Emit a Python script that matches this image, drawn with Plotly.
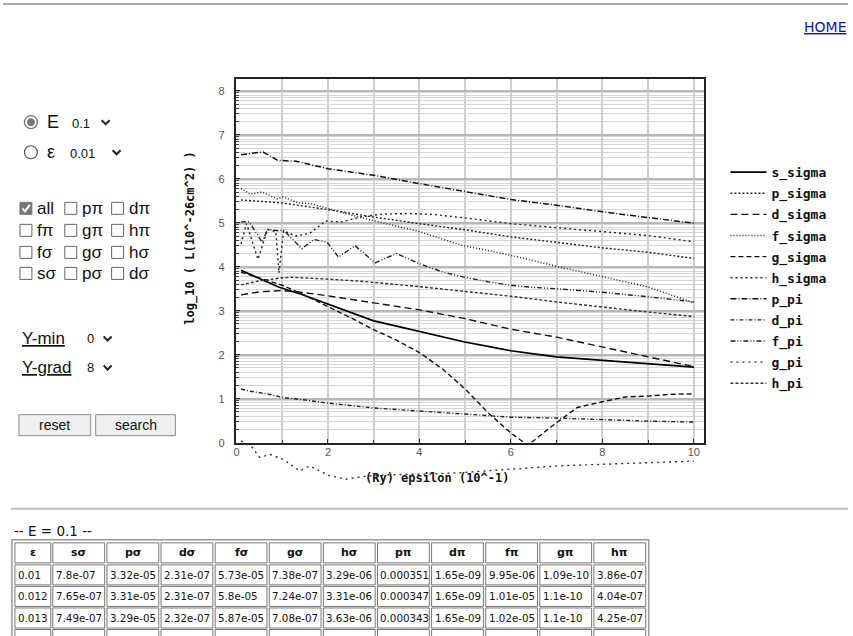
import numpy as np
import plotly.graph_objects as go

W, H = 853, 636
FIG_H = 643  # rendered height (page is captured slightly taller than 636 and scaled)

# ---------------- data ----------------
s_sigma_x = [0.1, 0.5, 0.92, 1.43, 1.98, 2.5, 3.0, 3.5, 3.98, 4.5, 4.99, 5.5, 6.0, 6.5, 7.0, 7.5, 8.0, 9.0, 10.0]
s_sigma_y = [3.92, 3.74, 3.54, 3.37, 3.16, 2.95, 2.77, 2.65, 2.53, 2.40, 2.29, 2.19, 2.09, 2.02, 1.95, 1.91, 1.87, 1.80, 1.72]

p_sigma_x = [0.1, 1.0, 2.0, 3.0, 4.0, 5.0, 6.0, 7.0, 8.0, 9.0, 10.0]
p_sigma_y = [5.52, 5.45, 5.30, 5.13, 4.98, 4.84, 4.68, 4.56, 4.43, 4.33, 4.19]

d_sigma_x = [0.1, 0.5, 1.0, 1.5, 2.0, 3.0, 4.0, 5.0, 6.0, 7.0, 8.0, 9.0, 10.0]
d_sigma_y = [3.36, 3.43, 3.46, 3.41, 3.34, 3.18, 3.02, 2.82, 2.58, 2.40, 2.18, 1.95, 1.73]

f_sigma_x = [0.1, 0.3, 0.56, 0.9, 1.02, 1.35, 1.6, 2.0, 2.5, 3.0, 3.5, 4.0, 4.5, 4.92, 5.5, 6.0, 7.0, 8.0, 9.0, 10.0]
f_sigma_y = [5.78, 5.65, 5.70, 5.54, 5.59, 5.45, 5.44, 5.32, 5.18, 5.05, 4.93, 4.80, 4.63, 4.49, 4.37, 4.26, 4.01, 3.78, 3.54, 3.18]

g_sigma_x = [0.1, 0.5, 1.0, 1.5, 2.0, 2.5, 3.0, 3.5, 4.0, 4.5, 5.0, 5.5, 6.0, 6.37, 6.9, 7.45, 8.0, 8.5, 9.0, 9.5, 10.0]
g_sigma_y = [3.88, 3.75, 3.58, 3.35, 3.10, 2.84, 2.57, 2.33, 2.05, 1.68, 1.22, 0.68, 0.22, -0.06, 0.38, 0.80, 0.93, 1.04, 1.06, 1.10, 1.11]

h_sigma_x = [0.1, 0.22, 0.47, 0.68, 0.86, 0.93, 1.03, 1.3, 1.6, 1.95, 2.3, 2.7, 3.2, 3.8, 4.3, 4.92, 6.0, 7.0, 8.0, 9.0, 10.0]
h_sigma_y = [4.52, 4.98, 4.17, 4.85, 4.80, 3.86, 4.82, 4.70, 4.76, 5.04, 5.02, 5.13, 5.20, 5.21, 5.19, 5.12, 4.98, 4.89, 4.81, 4.71, 4.57]

p_pi_x = [0.1, 0.3, 0.58, 0.9, 1.3, 2.0, 3.0, 4.0, 5.0, 6.0, 7.0, 8.0, 9.0, 10.0]
p_pi_y = [6.55, 6.58, 6.61, 6.42, 6.40, 6.23, 6.08, 5.89, 5.71, 5.53, 5.40, 5.25, 5.12, 4.99]

d_pi_x = [0.1, 0.3, 0.62, 1.0, 1.5, 2.0, 3.0, 4.0, 5.0, 6.0, 7.0, 8.0, 9.0, 10.0]
d_pi_y = [1.22, 1.17, 1.12, 1.03, 0.97, 0.90, 0.79, 0.72, 0.65, 0.58, 0.56, 0.52, 0.49, 0.47]

f_pi_x = [0.1, 0.28, 0.56, 0.68, 0.9, 1.03, 1.43, 1.69, 1.98, 2.23, 2.59, 3.03, 3.5, 3.98, 4.48, 4.99, 5.5, 6.0, 6.5, 7.0, 8.0, 9.0, 10.0]
f_pi_y = [5.02, 5.02, 4.56, 4.85, 4.82, 4.83, 4.41, 4.62, 4.56, 4.22, 4.48, 4.09, 4.30, 4.08, 3.89, 3.76, 3.66, 3.58, 3.53, 3.50, 3.42, 3.32, 3.20]

g_pi_x = [0.1, 0.34, 0.5, 0.75, 1.04, 1.38, 1.6, 2.03, 2.39, 2.75, 3.3, 4.3, 4.92, 6.0, 7.0, 8.0, 9.0, 10.0]
g_pi_y = [0.04, -0.10, -0.33, -0.27, -0.39, -0.64, -0.53, -0.75, -0.83, -0.77, -0.73, -0.71, -0.68, -0.61, -0.53, -0.49, -0.45, -0.42]

h_pi_x = [0.1, 0.5, 1.0, 1.2, 2.0, 2.74, 3.98, 5.0, 6.0, 7.0, 8.0, 9.0, 10.0]
h_pi_y = [3.59, 3.68, 3.75, 3.76, 3.72, 3.67, 3.55, 3.44, 3.33, 3.20, 3.08, 2.97, 2.87]

x_tick_vals = [0, 2, 4, 6, 8, 10]
x_tick_text = ["0", "2", "4", "6", "8", "10"]
y_tick_vals = [0, 1, 2, 3, 4, 5, 6, 7, 8]
y_tick_text = ["0", "1", "2", "3", "4", "5", "6", "7", "8"]

table_title = "-- E = 0.1 --"
table_header = ["ε", "sσ", "pσ", "dσ", "fσ", "gσ", "hσ", "pπ", "dπ", "fπ", "gπ", "hπ"]
table_row1 = ["0.01", "7.8e-07", "3.32e-05", "2.31e-07", "5.73e-05", "7.38e-07", "3.29e-06", "0.000351", "1.65e-09", "9.95e-06", "1.09e-10", "3.86e-07"]
table_row2 = ["0.012", "7.65e-07", "3.31e-05", "2.31e-07", "5.8e-05", "7.24e-07", "3.31e-06", "0.000347", "1.65e-09", "1.01e-05", "1.1e-10", "4.04e-07"]
table_row3 = ["0.013", "7.49e-07", "3.29e-05", "2.32e-07", "5.87e-05", "7.08e-07", "3.63e-06", "0.000343", "1.65e-09", "1.02e-05", "1.1e-10", "4.25e-07"]

# ---------------- helpers ----------------
def X(px):
    return px / W

def Y(py):
    return 1 - py / H

# plot frame in pixels
FX0, FX1 = 234.3, 703.0
FY_TOP, FY_ZERO, FY_EXT = 79.0, 442.0, 492.0
PX_PER_X = 45.9
PX_PER_Y = 43.91
x_range = [0, (FX1 - FX0) / PX_PER_X]
y_range = [0, (FY_ZERO - FY_TOP) / PX_PER_Y]
y2_range = [-(FY_EXT - FY_ZERO) / PX_PER_Y, y_range[1]]

series = [
    ("s_sigma", s_sigma_x, s_sigma_y, "x", "y"),
    ("p_sigma", p_sigma_x, p_sigma_y, "x", "y"),
    ("d_sigma", d_sigma_x, d_sigma_y, "x", "y"),
    ("f_sigma", f_sigma_x, f_sigma_y, "x", "y"),
    ("g_sigma", g_sigma_x, g_sigma_y, "x", "y"),
    ("h_sigma", h_sigma_x, h_sigma_y, "x", "y"),
    ("p_pi", p_pi_x, p_pi_y, "x", "y"),
    ("d_pi", d_pi_x, d_pi_y, "x", "y"),
    ("f_pi", f_pi_x, f_pi_y, "x", "y"),
    ("g_pi", g_pi_x, g_pi_y, "x2", "y2"),
    ("h_pi", h_pi_x, h_pi_y, "x", "y"),
]
styles = {
    "s_sigma": ("solid", 1.7, "#000"),
    "p_sigma": ("2px,2px", 1.4, "#222"),
    "d_sigma": ("7px,4px", 1.4, "#111"),
    "f_sigma": ("1px,2px", 1.5, "#222"),
    "g_sigma": ("5px,3px", 1.4, "#111"),
    "h_sigma": ("2px,3px", 1.4, "#222"),
    "p_pi": ("6px,2px,1px,2px", 1.5, "#111"),
    "d_pi": ("4px,2px,1px,2px", 1.4, "#222"),
    "f_pi": ("5px,2px,1px,2px,1px,2px", 1.4, "#222"),
    "g_pi": ("2px,4px", 1.4, "#333"),
    "h_pi": ("3px,2px", 1.4, "#333"),
}

fig = go.Figure()
for name, xs, ys, xa, ya in series:
    dash, wdt, col = styles[name]
    fig.add_trace(go.Scatter(
        x=xs, y=ys, name=name, mode="lines", xaxis=xa, yaxis=ya,
        line=dict(color=col, width=wdt, dash=dash),
        legendgroup=name, showlegend=True,
    ))

minor_y = [n + np.log10(k) for n in range(8) for k in range(2, 10)]

tick_font = dict(family="Liberation Sans", size=11, color="#555")

fig.update_layout(
    width=W, height=FIG_H, autosize=False,
    margin=dict(l=0, r=0, t=0, b=0),
    paper_bgcolor="white", plot_bgcolor="rgba(0,0,0,0)",
    xaxis=dict(
        domain=[X(FX0), X(FX1)], range=x_range, anchor="y",
        tickmode="array", tickvals=x_tick_vals, ticktext=x_tick_text,
        showgrid=True, gridcolor="#cfcfcf", gridwidth=1.5,
        minor=dict(dtick=1, tick0=0, showgrid=True, gridcolor="#cfcfcf", gridwidth=1.5,
                   ticks="inside", ticklen=3, tickcolor="#333"),
        ticks="inside", ticklen=4, tickcolor="#333",
        showline=True, mirror=True, linecolor="#222", linewidth=1.5,
        zeroline=False, tickfont=tick_font, ticklabelstandoff=-2,
    ),
    yaxis=dict(
        domain=[Y(FY_ZERO), Y(FY_TOP)], range=y_range, anchor="x",
        tickmode="array", tickvals=y_tick_vals, ticktext=y_tick_text,
        showgrid=True, gridcolor="#b8b8b8", gridwidth=1.5,
        minor=dict(tickmode="array", tickvals=minor_y, showgrid=True, gridcolor="#d6d6d6",
                   gridwidth=1, ticks="inside", ticklen=3, tickcolor="#444"),
        ticks="inside", ticklen=4, tickcolor="#222",
        showline=True, mirror=True, linecolor="#222", linewidth=1.5,
        zeroline=False, tickfont=tick_font, ticklabelstandoff=8,
    ),
    xaxis2=dict(domain=[X(FX0), X(FX1)], range=x_range, anchor="y2", visible=False),
    yaxis2=dict(domain=[Y(FY_EXT), Y(FY_TOP)], range=y2_range, anchor="x2", visible=False),
    showlegend=True,
    legend=dict(
        x=X(725), y=Y(157), xanchor="left", yanchor="top",
        font=dict(family="DejaVu Sans Mono", size=13, color="#111", weight="bold"),
        bgcolor="rgba(0,0,0,0)", tracegroupgap=1.2, itemwidth=36,
    ),
)

annotations = []
shapes = []

def text(t, px, py, size=14, family="Liberation Sans", color="#111", xanchor="left", weight="normal", angle=0):
    annotations.append(dict(
        text=t, x=X(px), y=Y(py), xref="paper", yref="paper", showarrow=False,
        xanchor=xanchor, yanchor="middle", textangle=angle,
        font=dict(family=family, size=size, color=color, weight=weight),
    ))

def rect(x0, y0, x1, y1, line="#777", fill=None, width=1):
    shapes.append(dict(type="rect", xref="paper", yref="paper",
                       x0=X(x0), x1=X(x1), y0=Y(y1), y1=Y(y0),
                       line=dict(color=line, width=width),
                       fillcolor=fill if fill else "rgba(0,0,0,0)"))

def circle(cx, cy, r, line="#666", fill=None, width=1.2):
    shapes.append(dict(type="circle", xref="paper", yref="paper",
                       x0=X(cx - r), x1=X(cx + r), y0=Y(cy + r), y1=Y(cy - r),
                       line=dict(color=line, width=width),
                       fillcolor=fill if fill else "rgba(0,0,0,0)"))

def hline(x0, x1, py, color="#aaa", width=2):
    shapes.append(dict(type="line", xref="paper", yref="paper",
                       x0=X(x0), x1=X(x1), y0=Y(py), y1=Y(py),
                       line=dict(color=color, width=width)))

def path(pts, color="#222", width=2):
    d = "M " + " L ".join(f"{X(a)},{Y(b)}" for a, b in pts)
    shapes.append(dict(type="path", xref="paper", yref="paper", path=d,
                       line=dict(color=color, width=width)))

def chevron(cx, cy):
    path([(cx - 4, cy - 2), (cx, cy + 2), (cx + 4, cy - 2)], color="#222", width=2)

# page rules and home link
hline(0, 848, 4, color="#a8a8a8", width=2)
hline(8, 848, 508, color="#c0c0c0", width=2)
text("<u>HOME</u>", 848, 27, size=14, family="DejaVu Sans", color="#1a0dab", xanchor="right")

# axis titles
text("log_10 ( L(10^-26cm^2) )", 188, 238, size=12, family="DejaVu Sans Mono", weight="bold", angle=-90, xanchor="center")
text("(Ry) epsilon (10^-1)", 436, 477, size=12, family="DejaVu Sans Mono", weight="bold", xanchor="center")

# radio controls
circle(28, 122, 6.5, line="#777", width=1.3)
circle(28, 122, 3.5, line="#777", fill="#777", width=1)
text("E", 42, 122, size=18)
text("0.1", 67, 123, size=13)
chevron(103, 122)
circle(28, 152, 6.5, line="#555", width=1.2)
text("ε", 42, 152, size=18)
text("0.01", 65, 153, size=13)
chevron(114, 152)

# checkboxes
cb_rows = [208, 230, 252, 273]
cb_cols = [23, 68, 115]
cb_labels = [["all", "pπ", "dπ"], ["fπ", "gπ", "hπ"], ["fσ", "gσ", "hσ"], ["sσ", "pσ", "dσ"]]
for ri, ry in enumerate(cb_rows):
    for ci, cx in enumerate(cb_cols):
        if ri == 0 and ci == 0:
            rect(cx - 6, ry - 6, cx + 6, ry + 6, line="#777", fill="#777")
            path([(cx - 3.5, ry), (cx - 1, ry + 3), (cx + 4, ry - 3.5)], color="white", width=2)
        else:
            rect(cx - 6, ry - 6, cx + 6, ry + 6, line="#666", width=1)
        text(cb_labels[ri][ci], cx + 9, ry, size=17)

# Y-min / Y-grad
text("<u>Y-min</u>", 17, 338, size=17)
text("0", 82, 338, size=13)
chevron(105, 338)
text("<u>Y-grad</u>", 17, 367, size=17)
text("8", 82, 367, size=13)
chevron(105, 367)

# buttons
rect(16, 414, 88, 435, line="#8a8a8a", fill="#efefef")
rect(93, 414, 173, 435, line="#8a8a8a", fill="#efefef")
text("reset", 52, 424.5, size=14, xanchor="center")
text("search", 133, 424.5, size=14, xanchor="center")

# table
text(table_title, 9, 530, size=13.5, family="DejaVu Sans")
col_left = [12] + [50 + 54.3 * i for i in range(11)]
col_w = [36] + [52] * 11
row_top = [542, 564, 585.5, 607, 628.5]
row_h = 20
rect(9, 539, 648, 660, line="#999", width=1.5)
for ri, rt in enumerate(row_top):
    for ci in range(12):
        rect(col_left[ci], rt, col_left[ci] + col_w[ci], rt + row_h, line="#777", width=1)
rows = [table_row1, table_row2, table_row3]
for ci, h in enumerate(table_header):
    text(h, col_left[ci] + col_w[ci] / 2, row_top[0] + 10, size=11, family="DejaVu Sans",
         weight="bold", xanchor="center")
for ri, row in enumerate(rows):
    for ci, v in enumerate(row):
        text(v, col_left[ci] + 1, row_top[ri + 1] + 10, size=10.3, family="DejaVu Sans")

fig.update_layout(annotations=annotations, shapes=shapes)

post = (
    "document.body.style.margin='0';"
    "document.body.style.overflow='hidden';"
    "document.documentElement.style.overflow='hidden';"
    "var d=document.getElementById('{plot_id}');"
    "d.style.position='fixed';d.style.top='0px';d.style.left='0px';"
)
fig.write_html("out.html", include_plotlyjs=True,
               config={"displayModeBar": False},
               post_script=post)
